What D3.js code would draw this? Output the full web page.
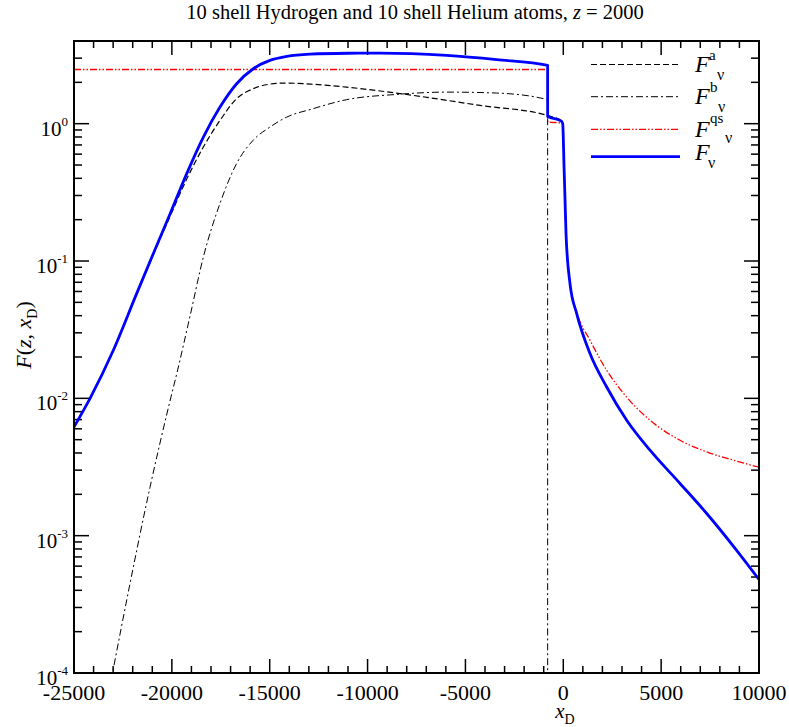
<!DOCTYPE html>
<html lang="en">
<head>
<meta charset="UTF-8">
<title>10 shell Hydrogen and 10 shell Helium atoms</title>
<script src="https://d3js.org/d3.v7.min.js"></script>
<style>
  body { margin: 0; background: #fff; }
  svg { font-family: 'Liberation Serif', 'DejaVu Serif', serif; }
</style>
</head>
<body>
<svg width="789" height="727"></svg>
<script>
// values
const xA  = [-25000, -24180, -22990, -21800, -20950, -20100, -19240, -18390, -17540, -16690, -15840, -14990, -14300, -12900, -11070, -7660, -4255, -800, -100, -30, 40, 90, 140, 343, 685, 1365, 2218, 3240, 4431, 5964, 7328, 8686, 10000];
const fA  = [6.19e-3, 1.0e-2, 2.24e-2, 5.75e-2, 0.111, 0.21, 0.395, 0.676, 1.057, 1.521, 1.799, 1.941, 1.977, 1.941, 1.845, 1.607, 1.358, 1.148, 1.045, 1.0, 0.48, 0.277, 0.158, 0.0684, 0.0414, 0.0212, 0.0121, 6.93e-3, 4.19e-3, 2.40e-3, 1.45e-3, 8.4e-4, 4.8e-4];

const xB  = [-23100, -22140, -21120, -20100, -19750, -19070, -18390, -17540, -16690, -15840, -14990, -14130, -12880, -11070, -8520, -5960, -3400, -800, -799];
const fB  = [8.9e-5, 4.47e-4, 2.24e-3, 9.5e-3, 1.51e-2, 3.98e-2, 0.107, 0.263, 0.513, 0.759, 0.944, 1.117, 1.274, 1.496, 1.633, 1.698, 1.671, 1.496, 1e-6];

const xQS = [-25000, -800, -799, -100, -30, 40, 90, 140, 343, 685, 1365, 2218, 3240, 4431, 5964, 7328, 8686, 10000];
const fQS = [2.48, 2.48, 1.03, 1.01, 1.0, 0.48, 0.277, 0.158, 0.0684, 0.0425, 0.0265, 0.0160, 0.0102, 6.93e-3, 4.95e-3, 4.07e-3, 3.55e-3, 3.15e-3];

const xNu = [-25000, -24180, -22990, -21800, -20950, -20100, -19240, -18390, -17540, -16690, -15840, -14990, -14130, -12940, -11000, -9365, -5960, -3400, -800, -799, -100, -30, 40, 90, 140, 343, 685, 1365, 2218, 3240, 4431, 5964, 7328, 8686, 10000];
const fNu = [6.19e-3, 1.0e-2, 2.24e-2, 5.79e-2, 0.113, 0.219, 0.433, 0.799, 1.321, 1.954, 2.512, 2.891, 3.090, 3.206, 3.258, 3.266, 3.141, 2.924, 2.655, 1.13, 1.045, 1.0, 0.48, 0.277, 0.158, 0.0684, 0.0414, 0.0212, 0.0121, 6.93e-3, 4.19e-3, 2.40e-3, 1.45e-3, 8.4e-4, 4.8e-4];

const xMajor = [-25000, -20000, -15000, -10000, -5000, 0, 5000, 10000];
const yExp = [0, -1, -2, -3, -4];

const svg = d3.select('svg');
const L = 74, R = 759, T = 41, B = 673;

const x = d3.scaleLinear().domain([-25000, 10000]).range([L, R]);
const y = d3.scaleLog().domain([1e-4, 4]).range([B, T]);

svg.append('defs').append('clipPath').attr('id', 'plot')
  .append('rect').attr('x', L).attr('y', T).attr('width', R - L).attr('height', B - T);

// ticks, inward on all four sides
const tk = svg.append('g').attr('stroke', '#000').attr('stroke-width', 1.5);
d3.range(-25000, 10001, 1000).forEach(v => {
  const len = v % 5000 === 0 ? 14 : 7;
  tk.append('line').attr('x1', x(v)).attr('x2', x(v)).attr('y1', B).attr('y2', B - len);
  tk.append('line').attr('x1', x(v)).attr('x2', x(v)).attr('y1', T).attr('y2', T + len);
});
const yT = [];
for (let e = -4; e <= 0; e++) for (let m = 1; m <= 9; m++) {
  const v = m * Math.pow(10, e);
  if (v < 4) yT.push({v: v, major: m === 1});
}
yT.forEach(d => {
  const len = d.major ? 15 : 8;
  tk.append('line').attr('x1', L).attr('x2', L + len).attr('y1', y(d.v)).attr('y2', y(d.v));
  tk.append('line').attr('x1', R).attr('x2', R - len).attr('y1', y(d.v)).attr('y2', y(d.v));
});

// curves
const line = (xs, fs) => d3.line()
  .x(i => x(xs[i])).y(i => y(Math.max(fs[i], 1e-6)))
  .curve(d3.curveMonotoneX)(d3.range(xs.length));

const curves = svg.append('g').attr('clip-path', 'url(#plot)').attr('fill', 'none');
curves.append('path').attr('d', line(xQS, fQS))
  .attr('stroke', '#ff0000').attr('stroke-width', 1.3).attr('stroke-dasharray', '7,2,1.5,2,1.5,2');
curves.append('path').attr('d', line(xB, fB))
  .attr('stroke', '#000').attr('stroke-width', 1).attr('stroke-dasharray', '7,3,2,3');
curves.append('path').attr('d', line(xA, fA))
  .attr('stroke', '#000').attr('stroke-width', 1.2).attr('stroke-dasharray', '6,3');
curves.append('path').attr('d', line(xNu, fNu))
  .attr('stroke', '#0000ff').attr('stroke-width', 2.8).attr('stroke-linejoin', 'round');

// frame
svg.append('rect').attr('x', L).attr('y', T).attr('width', R - L).attr('height', B - T)
  .attr('fill', 'none').attr('stroke', '#000').attr('stroke-width', 2);

// tick labels
svg.append('g').selectAll('text').data(xMajor).join('text')
  .attr('x', d => x(d)).attr('y', B + 27).attr('text-anchor', 'middle')
  .attr('font-size', 22).text(d => d < 0 ? '-' + Math.abs(d) : d);

const yl = svg.append('g').selectAll('text').data(yExp).join('text')
  .attr('x', 68).attr('y', d => y(Math.pow(10, d)) + 12).attr('text-anchor', 'end')
  .attr('font-size', 21);
yl.append('tspan').text('10');
yl.append('tspan').attr('font-size', 13).attr('dy', -10).text(d => d);

// title
const title = svg.append('text').attr('x', 415).attr('y', 19).attr('text-anchor', 'middle').attr('font-size', 20.5);
title.append('tspan').text('10 shell Hydrogen and 10 shell Helium atoms, ');
title.append('tspan').attr('font-style', 'italic').text('z');
title.append('tspan').text(' = 2000');

// axis titles
const xt = svg.append('text').attr('x', 565).attr('y', 718).attr('text-anchor', 'middle').attr('font-size', 21);
xt.append('tspan').attr('font-style', 'italic').text('x');
xt.append('tspan').attr('font-size', 14).attr('dy', 6).text('D');

const ytl = svg.append('text').attr('transform', 'translate(31,335) rotate(-90)')
  .attr('text-anchor', 'middle').attr('font-size', 22);
ytl.append('tspan').attr('font-style', 'italic').text('F');
ytl.append('tspan').text('(');
ytl.append('tspan').attr('font-style', 'italic').text('z');
ytl.append('tspan').text(', ');
ytl.append('tspan').attr('font-style', 'italic').text('x');
ytl.append('tspan').attr('font-size', 14).attr('dy', 6).text('D');
ytl.append('tspan').attr('dy', -6).text(')');

// legend
const legend = [
  {sup: 'a',  dash: '6,3',             color: '#000',    w: 1.2, ly: 64.5,  supX: 709, supDy: -4.5, nuX: 717, nuDy: 15.5},
  {sup: 'b',  dash: '7,3,2,3',         color: '#000',    w: 1,   ly: 96.7,  supX: 710, supDy: -5,   nuX: 718, nuDy: 15},
  {sup: 'qs', dash: '7,2,1.5,2,1.5,2', color: '#ff0000', w: 1.3, ly: 129.3, supX: 710, supDy: -6.6, nuX: 725, nuDy: 14},
  {sup: '',   dash: null,              color: '#0000ff', w: 2.8, ly: 156.7, supX: 0,   supDy: 0,    nuX: 708, nuDy: 11.6}
];
const lg = svg.append('g');
legend.forEach(d => {
  lg.append('line').attr('x1', 591).attr('x2', 680).attr('y1', d.ly).attr('y2', d.ly)
    .attr('stroke', d.color).attr('stroke-width', d.w).attr('stroke-dasharray', d.dash);
  const fy = d.sup ? d.ly + 7.4 : d.ly + 3.3;
  lg.append('text').attr('x', 695).attr('y', fy).attr('font-size', 24).attr('font-style', 'italic').text('F');
  if (d.sup) lg.append('text').attr('x', d.supX).attr('y', d.ly + d.supDy).attr('font-size', 15).text(d.sup);
  lg.append('text').attr('x', d.nuX).attr('y', d.ly + d.nuDy).attr('font-size', 16).text('ν');
});
</script>
</body>
</html>
